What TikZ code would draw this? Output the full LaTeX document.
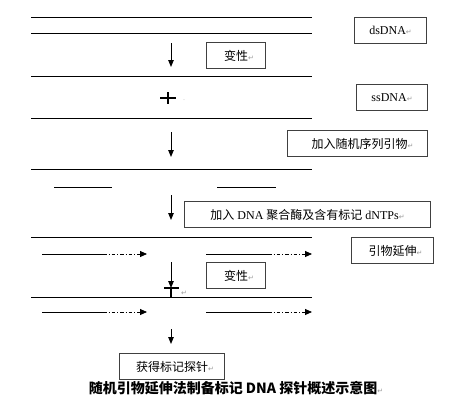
\documentclass[tikz,border=0pt]{standalone}
\usepackage{fontspec}
\setmainfont{Liberation Serif}
\newfontfamily\cjk{Noto Sans CJK SC}
\newfontfamily\symfont{DejaVu Sans}
\usetikzlibrary{arrows.meta, positioning}
\newcommand{\pmk}{{\symfont\color{black!40}\fontsize{7}{8}\selectfont ↵}}

\begin{document}
\begin{tikzpicture}[x=1pt, y=-1pt,
  strand/.style={line width=0.85pt},
  labelbox/.style={draw=black!75, line width=1.1pt, minimum height=26pt,
                   inner sep=0pt, anchor=north west, font=\fontsize{12}{13}\selectfont},
  arr/.style={-{Triangle[length=7pt, width=5.5pt]}, line width=0.85pt},
  extarr/.style={line width=0.85pt, dash pattern=on 3.5pt off 2pt on 1pt off 2pt,
                 -{Triangle[length=7pt, width=6pt]}},
]
\useasboundingbox (0,0) rectangle (456,402);

% dsDNA
\draw[strand] (31,17) -- (312,17);
\draw[strand] (31,33) -- (312,33);
\node[labelbox, minimum width=72pt] (ds) at (354,17) {dsDNA\pmk};

% denature
\coordinate (a1s) at (171,43);
\coordinate (a1e) at (171,67);
\draw[arr] (a1s) -- (a1e);
\node[labelbox, minimum width=59pt] (den1) at (206,42) {\hspace{6pt}{\cjk 变性}\pmk};

% ssDNA
\draw[strand] (31,76) -- (312,76);
\draw[line width=1.1pt] (160,98) -- (176,98) (168,92) -- (168,104);
\node[font=\tiny, text=black!30] (dots1) at (184,100) {..};
\node[labelbox, minimum width=71pt] (ss) at (356,84) {ssDNA\pmk};
\draw[strand] (31,118) -- (312,118);

% random primers
\node[labelbox, minimum width=140pt] (prim) at (287,130) {\hspace{10pt}{\cjk 加入随机序列引物}\pmk};
\coordinate (a2s) at (171,132);
\coordinate (a2e) at (171,157);
\draw[arr] (a2s) -- (a2e);
\draw[strand] (31,169) -- (312,169);
\draw[strand] (54,187) -- (112,187);
\draw[strand] (217,187) -- (276,187);

% polymerase + labelled dNTPs
\coordinate (a3s) at (171,195);
\coordinate (a3e) at (171,220);
\draw[arr] (a3s) -- (a3e);
\node[labelbox, minimum width=246pt] (pol) at (184,201)
  {{\cjk 加入} DNA {\cjk 聚合酶及含有标记} dNTPs\pmk};

% extension
\draw[strand] (31,237) -- (312,237);
\node[labelbox, minimum width=82pt] (ext) at (351,237) {\hspace{6pt}{\cjk 引物延伸}\pmk};
\foreach \y in {254,312} {
  \draw[strand] (42,\y) -- (103,\y);
  \draw[extarr] (103,\y) -- (147,\y);
  \draw[strand] (206,\y) -- (268,\y);
  \draw[extarr] (268,\y) -- (312,\y);
}

% denature again
\coordinate (a4s) at (171,262);
\coordinate (a4e) at (171,288);
\draw[arr] (a4s) -- (a4e);
\draw[line width=1.1pt] (164,288) -- (179,288) (171,288) -- (171,297);
\node[inner sep=0pt] (pm2) at (184,293) {\pmk};
\node[labelbox, minimum width=59pt] (den2) at (206,262) {\hspace{6pt}{\cjk 变性}\pmk};
\draw[strand] (31,297) -- (312,297);

% labelled probe
\coordinate (a5s) at (171,329);
\coordinate (a5e) at (171,344);
\draw[arr] (a5s) -- (a5e);
\node[labelbox, minimum width=105pt] (probe) at (119,353) {\hspace{6pt}{\cjk 获得标记探针}\pmk};

% caption
\node[font=\fontsize{14}{15}\selectfont] (cap) at (236,388)
  {{\cjk\bfseries 随机引物延伸法制备标记 DNA 探针概述示意图}\pmk};

\end{tikzpicture}
\end{document}
